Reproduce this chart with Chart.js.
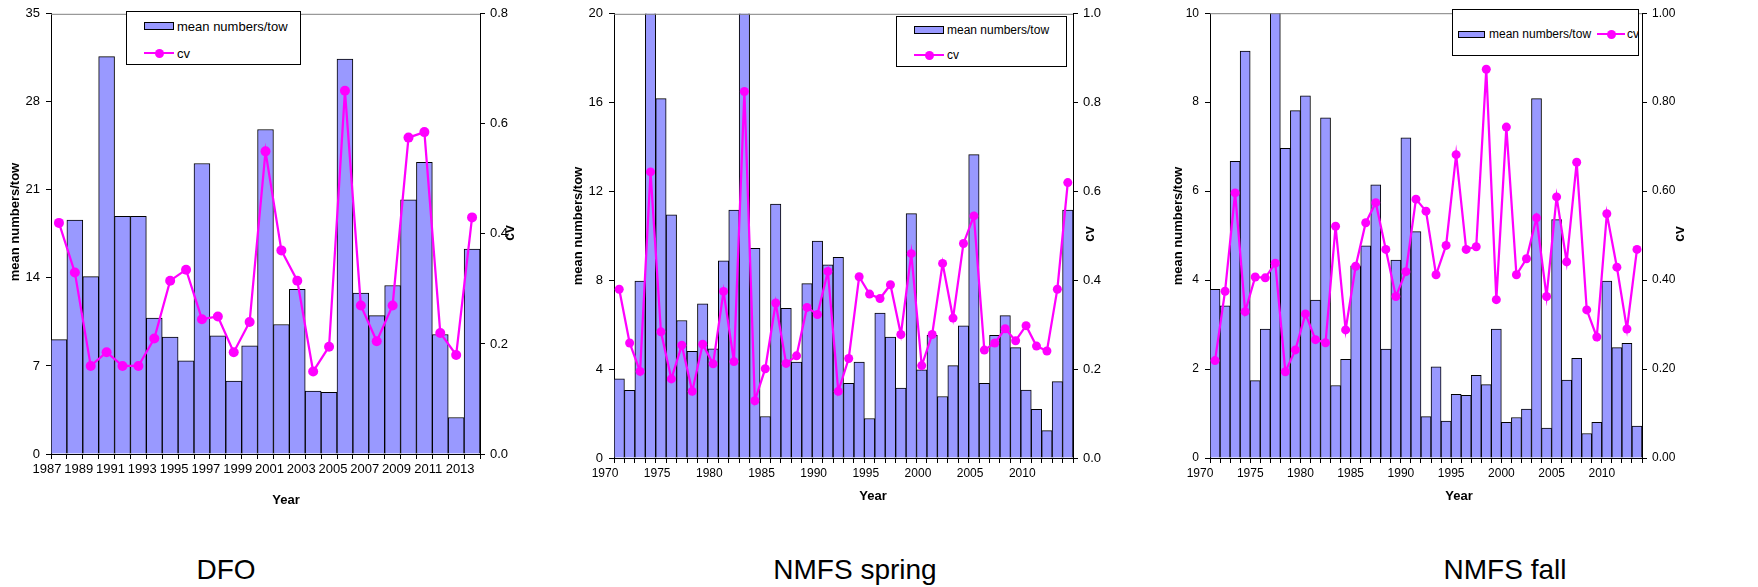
<!DOCTYPE html>
<html>
<head>
<meta charset="utf-8">
<script src="https://cdn.jsdelivr.net/npm/chart.js@4.4.1/dist/chart.umd.min.js"></script>
<style>
body { margin:0; background:#fff; width:1758px; height:587px; position:relative; overflow:hidden; font-family:"Liberation Sans", Arial, sans-serif; color:#000; }
canvas { position:absolute; top:0; }
.legend { position:absolute; border:1px solid #000; background:#fff; box-sizing:border-box; overflow:hidden; }
.legend div { position:absolute; }
.sw-bar { background:#9999ff; border:1px solid #000; box-sizing:border-box; }
.sw-line { height:2px; background:#ff00ff; }
.sw-dot { width:9px; height:9px; border-radius:50%; background:#ff00ff; }
.txt { white-space:nowrap; line-height:1; transform:translateY(-50%); }
.caption { position:absolute; top:556px; font-size:28px; line-height:28px; white-space:nowrap; transform:translateX(-50%); }
</style>
</head>
<body>
<canvas id="dfo" width="560" height="520" style="left:0px"></canvas>
<canvas id="spring" width="590" height="520" style="left:565px"></canvas>
<canvas id="fall" width="598" height="520" style="left:1160px"></canvas>
<div class="caption" style="left:226px">DFO</div>
<div class="caption" style="left:855px">NMFS spring</div>
<div class="caption" style="left:1505px">NMFS fall</div>
<script>
// series names
var seriesNames = ['mean numbers/tow', 'cv'];

// DFO survey
var dfoYears = [1987, 1988, 1989, 1990, 1991, 1992, 1993, 1994, 1995, 1996, 1997, 1998, 1999, 2000,
  2001, 2002, 2003, 2004, 2005, 2006, 2007, 2008, 2009, 2010, 2011, 2012, 2013];
var dfoMean = [9.1, 18.6, 14.1, 31.6, 18.9, 18.9, 10.8, 9.3, 7.4, 23.1, 9.4, 5.8, 8.6, 25.8,
  10.3, 13.1, 5.0, 4.9, 31.4, 12.8, 11.0, 13.4, 20.2, 23.2, 9.5, 2.9, 16.3];
var dfoCv = [0.42, 0.33, 0.16, 0.185, 0.16, 0.16, 0.21, 0.315, 0.335, 0.245, 0.25, 0.185, 0.24, 0.55,
  0.37, 0.315, 0.15, 0.195, 0.66, 0.27, 0.205, 0.27, 0.575, 0.585, 0.22, 0.18, 0.43];
var dfoTicks = [1987, 1989, 1991, 1993, 1995, 1997, 1999, 2001, 2003, 2005, 2007, 2009, 2011, 2013];

// NMFS spring survey
var springYears = [1970, 1971, 1972, 1973, 1974, 1975, 1976, 1977, 1978, 1979, 1980, 1981, 1982, 1983,
  1984, 1985, 1986, 1987, 1988, 1989, 1990, 1991, 1992, 1993, 1994, 1995, 1996, 1997, 1998, 1999,
  2000, 2001, 2002, 2003, 2004, 2005, 2006, 2007, 2008, 2009, 2010, 2011, 2012, 2013];
var springMean = [3.57, 3.05, 7.97, 23, 16.18, 10.95, 6.19, 4.8, 6.94, 4.92, 8.88, 11.16, 23, 9.44,
  1.87, 11.43, 6.74, 4.32, 7.85, 9.77, 8.7, 9.03, 3.36, 4.32, 1.78, 6.53, 5.45, 3.15, 11.0, 3.97,
  5.52, 2.77, 4.16, 5.95, 13.66, 3.36, 5.52, 6.41, 4.97, 3.06, 2.19, 1.23, 3.44, 11.16];
var springCv = [0.38, 0.259, 0.195, 0.644, 0.284, 0.178, 0.254, 0.15, 0.256, 0.212, 0.375, 0.217, 0.825, 0.129,
  0.201, 0.349, 0.213, 0.23, 0.339, 0.323, 0.42, 0.15, 0.224, 0.408, 0.369, 0.359, 0.39, 0.278, 0.46, 0.208,
  0.278, 0.438, 0.315, 0.483, 0.545, 0.243, 0.259, 0.291, 0.264, 0.298, 0.252, 0.241, 0.38, 0.62];

// NMFS fall survey
var fallYears = [1970, 1971, 1972, 1973, 1974, 1975, 1976, 1977, 1978, 1979, 1980, 1981, 1982, 1983,
  1984, 1985, 1986, 1987, 1988, 1989, 1990, 1991, 1992, 1993, 1994, 1995, 1996, 1997, 1998, 1999,
  2000, 2001, 2002, 2003, 2004, 2005, 2006, 2007, 2008, 2009, 2010, 2011, 2012];
var fallMean = [3.79, 3.42, 6.67, 9.15, 1.74, 2.9, 11, 6.96, 7.81, 8.14, 3.55, 7.65, 1.63, 2.22,
  4.32, 4.77, 6.14, 2.45, 4.45, 7.2, 5.09, 0.93, 2.05, 0.83, 1.43, 1.41, 1.86, 1.65, 2.9, 0.8,
  0.91, 1.1, 8.08, 0.67, 5.36, 1.75, 2.24, 0.55, 0.8, 3.98, 2.48, 2.58, 0.72];
var fallCv = [0.219, 0.375, 0.596, 0.329, 0.407, 0.405, 0.438, 0.194, 0.243, 0.324, 0.266, 0.259, 0.521, 0.288,
  0.431, 0.529, 0.574, 0.469, 0.363, 0.419, 0.582, 0.555, 0.412, 0.478, 0.682, 0.469, 0.475, 0.874, 0.356, 0.744,
  0.412, 0.448, 0.54, 0.363, 0.587, 0.441, 0.665, 0.333, 0.272, 0.549, 0.429, 0.29, 0.469];

var nmfsTicks = [1970, 1975, 1980, 1985, 1990, 1995, 2000, 2005, 2010];

Chart.defaults.font.family = '"Liberation Sans", Arial, sans-serif';
Chart.defaults.color = '#000';
Chart.defaults.animation = false;

// axis titles + thin top frame line, drawn on the canvas
function titlePlugin(items) {
  return {
    id: 'panelTitles',
    afterDraw: function(chart) {
      var ctx = chart.ctx, a = chart.chartArea;
      ctx.save();
      ctx.strokeStyle = '#808080';
      ctx.lineWidth = 1;
      ctx.beginPath();
      ctx.moveTo(a.left, a.top + 0.5);
      ctx.lineTo(a.right, a.top + 0.5);
      ctx.stroke();
      ctx.fillStyle = '#000';
      ctx.textAlign = 'center';
      ctx.textBaseline = 'middle';
      items.forEach(function(t) {
        ctx.save();
        ctx.translate(t.x, t.y);
        ctx.rotate((t.rot || 0) * Math.PI / 180);
        ctx.font = t.font;
        ctx.fillText(t.text, 0, 0);
        ctx.restore();
      });
      ctx.restore();
    }
  };
}

function makePanel(p) {
  var canvas = document.getElementById(p.id);
  var W = canvas.width, H = canvas.height;
  var off = p.canvasLeft;
  var last = p.years[p.years.length - 1] + 1;
  var bounds = p.years.concat([last]);
  var rightW = 40, xH = 30;
  var titleFont = 'bold 13px "Liberation Sans", Arial, sans-serif';

  new Chart(canvas, {
    type: 'bar',
    data: {
      datasets: [{
        type: 'line',
        label: seriesNames[1],
        data: p.years.map(function(y, i) { return {x: y + 0.5, y: p.cv[i]}; }),
        yAxisID: 'cv',
        borderColor: '#ff00ff',
        backgroundColor: '#ff00ff',
        borderWidth: 2.25,
        pointRadius: p.pointRadius,
        pointBackgroundColor: '#ff00ff',
        pointBorderWidth: 0,
        tension: 0,
        order: 0
      }, {
        type: 'bar',
        label: seriesNames[0],
        data: p.years.map(function(y, i) { return {x: y + 0.5, y: p.mean[i]}; }),
        yAxisID: 'y',
        backgroundColor: '#9999ff',
        borderColor: '#000',
        borderWidth: 1,
        barPercentage: 1,
        categoryPercentage: 1,
        order: 1
      }]
    },
    options: {
      responsive: false,
      animation: false,
      layout: {
        padding: {left: 0, top: p.area.top, right: W - p.area.right - rightW, bottom: H - p.area.bottom - xH}
      },
      plugins: { legend: {display: false}, tooltip: {enabled: false} },
      scales: {
        x: {
          type: 'linear',
          min: p.years[0],
          max: last,
          offset: false,
          afterBuildTicks: function(s) { s.ticks = bounds.map(function(v) { return {value: v}; }); },
          afterFit: function(s) { s.height = xH; },
          ticks: {
            autoSkip: false, maxRotation: 0, minRotation: 0,
            labelOffset: p.labelOffset, padding: 3,
            font: {size: p.xFont},
            callback: function(v) { return p.ticks.indexOf(v) >= 0 ? String(v) : ''; }
          },
          grid: {offset: false, drawOnChartArea: false, drawTicks: true, tickLength: 5, color: '#000'},
          border: {display: true, color: '#000', width: 1}
        },
        y: {
          position: 'left',
          min: 0, max: p.yMax,
          afterFit: function(s) { s.width = p.area.left; },
          ticks: {stepSize: p.yStep, padding: 6, font: {size: p.yFont}},
          grid: {drawOnChartArea: false, drawTicks: true, tickLength: 5, color: '#000'},
          border: {display: true, color: '#000', width: 1}
        },
        cv: {
          position: 'right',
          min: 0, max: p.cvMax,
          afterFit: function(s) { s.width = rightW; },
          ticks: {
            stepSize: p.cvStep, padding: 5, font: {size: p.yFont},
            callback: function(v) { return v.toFixed(p.cvDigits); }
          },
          grid: {drawOnChartArea: false, drawTicks: true, tickLength: 5, color: '#000'},
          border: {display: true, color: '#000', width: 1}
        }
      }
    },
    plugins: [titlePlugin([
      {text: seriesNames[0], x: p.titles.left[0] - off, y: p.titles.left[1], rot: -90, font: titleFont},
      {text: seriesNames[1], x: p.titles.right[0] - off, y: p.titles.right[1], rot: -90, font: 'bold 14px "Liberation Sans", Arial, sans-serif'},
      {text: 'Year', x: p.titles.bottom[0] - off, y: p.titles.bottom[1], rot: 0, font: titleFont}
    ])]
  });
}

function buildLegend(L) {
  var box = document.createElement('div');
  box.className = 'legend';
  box.style.cssText = 'left:' + L.x + 'px;top:' + L.y + 'px;width:' + L.w + 'px;height:' + L.h + 'px;font-size:' + L.font + 'px';
  function add(cls, css, text) {
    var d = document.createElement('div');
    d.className = cls;
    d.style.cssText = css;
    if (text) d.textContent = text;
    box.appendChild(d);
  }
  add('sw-bar', 'left:' + L.bar[0] + 'px;top:' + (L.bar[1] - L.bar[3] / 2) + 'px;width:' + L.bar[2] + 'px;height:' + L.bar[3] + 'px');
  add('txt', 'left:' + L.barText[0] + 'px;top:' + L.barText[1] + 'px', seriesNames[0]);
  add('sw-line', 'left:' + L.line[0] + 'px;top:' + (L.line[1] - 1) + 'px;width:' + L.line[2] + 'px');
  add('sw-dot', 'left:' + (L.line[0] + L.line[2] / 2 - 4.5) + 'px;top:' + (L.line[1] - 4.5) + 'px');
  add('txt', 'left:' + L.lineText[0] + 'px;top:' + L.lineText[1] + 'px', seriesNames[1]);
  document.body.appendChild(box);
}

makePanel({
  id: 'dfo', canvasLeft: 0, years: dfoYears, mean: dfoMean, cv: dfoCv, ticks: dfoTicks,
  yMax: 35, yStep: 7, cvMax: 0.8, cvStep: 0.2, cvDigits: 1,
  area: {left: 51, right: 480, top: 11, bottom: 454},
  labelOffset: -4, xFont: 13, yFont: 13, pointRadius: 5,
  titles: {left: [15, 222], right: [510, 233], bottom: [286, 500]}
});
makePanel({
  id: 'spring', canvasLeft: 565, years: springYears, mean: springMean, cv: springCv, ticks: nmfsTicks,
  yMax: 20, yStep: 4, cvMax: 1.0, cvStep: 0.2, cvDigits: 1,
  area: {left: 49, right: 508, top: 7, bottom: 458},
  labelOffset: -9, xFont: 12, yFont: 13, pointRadius: 4.5,
  titles: {left: [578, 226], right: [1090, 234], bottom: [873, 496]}
});
makePanel({
  id: 'fall', canvasLeft: 1160, years: fallYears, mean: fallMean, cv: fallCv, ticks: nmfsTicks,
  yMax: 10, yStep: 2, cvMax: 1.0, cvStep: 0.2, cvDigits: 2,
  area: {left: 50, right: 482, top: 7, bottom: 458},
  labelOffset: -10, xFont: 12, yFont: 12, pointRadius: 4.5,
  titles: {left: [1178, 226], right: [1680, 234], bottom: [1459, 496]}
});

buildLegend({x: 126, y: 11, w: 175, h: 54, font: 13,
  bar: [17, 14, 30, 8], barText: [50, 14], line: [17, 41, 30], lineText: [50, 41]});
buildLegend({x: 896, y: 16, w: 171, h: 51, font: 12,
  bar: [17, 13, 30, 8], barText: [50, 13], line: [17, 38, 30], lineText: [50, 38]});
buildLegend({x: 1452, y: 9, w: 187, h: 47, font: 12,
  bar: [5, 24, 27, 7], barText: [36, 24], line: [144, 24, 28], lineText: [174, 24]});
</script>
</body>
</html>
